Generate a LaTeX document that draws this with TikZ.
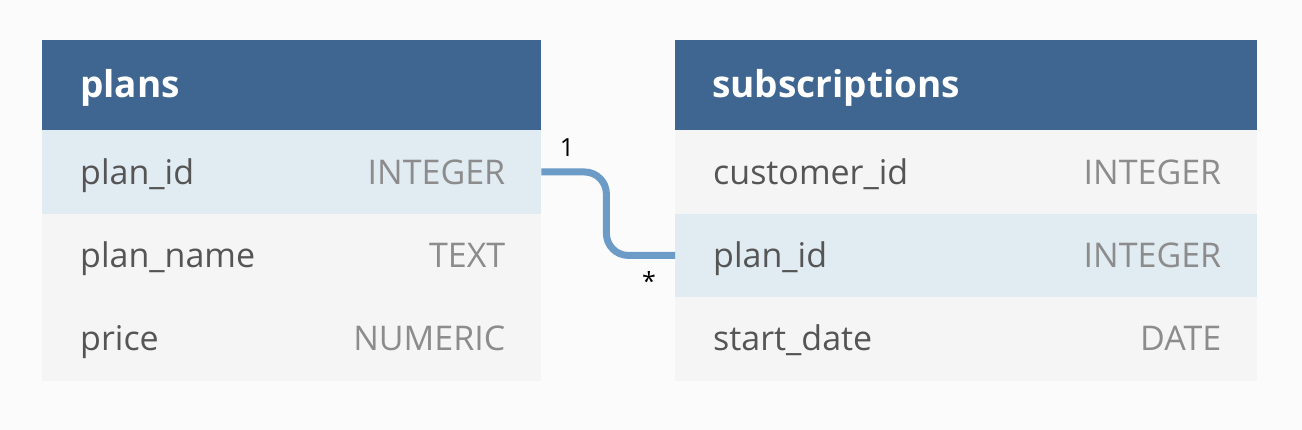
\documentclass[tikz,border=0pt]{standalone}
\usepackage{fontspec}
\setmainfont{Open Sans}
\usetikzlibrary{calc}
\definecolor{bgc}{HTML}{FBFBFB}
\definecolor{hdrc}{HTML}{3E6690}
\definecolor{rowc}{HTML}{F5F5F5}
\definecolor{hlc}{HTML}{E0EBF2}
\definecolor{namec}{HTML}{555555}
\definecolor{typec}{HTML}{8C8C8C}
\definecolor{connc}{HTML}{6C9BC8}
\begin{document}
\begin{tikzpicture}[x=1pt,y=-1pt,
  hdr/.style={fill=hdrc, draw=none, anchor=north west, minimum height=90pt, inner sep=0pt},
  htext/.style={anchor=base west, text=white, inner sep=0pt, font=\fontsize{37}{42}\selectfont\bfseries},
  rowbox/.style={fill=rowc, draw=none, anchor=north west, minimum height=83.5pt, inner sep=0pt},
  hlbox/.style={rowbox, fill=hlc},
  fname/.style={anchor=base west, text=namec, inner sep=0pt, font=\fontsize{34}{40}\selectfont},
  ftype/.style={anchor=base east, text=typec, inner sep=0pt, font=\fontsize{34}{40}\selectfont},
  conn/.style={draw=connc, line width=7pt, rounded corners=22pt},
  card/.style={text=black, inner sep=0pt, font=\fontsize{25}{30}\selectfont}]
\fill[bgc] (0,0) rectangle (1302,430);
\useasboundingbox (0,0) rectangle (1302,430);
% plans table
\node[hdr, minimum width=499pt] (ph) at (42,40) {};
\node[htext] (pht) at ($(ph.north west)+(38,58)$) {plans};
\node[hlbox, minimum width=499pt] (p1) at (42,130) {};
\node[rowbox, minimum width=499pt] (p2) at (42,213.5) {};
\node[rowbox, minimum width=499pt] (p3) at (42,297) {};
\node[fname] (p1n) at ($(p1.north west)+(38,55)$) {plan\_id};
\node[ftype] (p1t) at ($(p1.north east)+(-36,55)$) {INTEGER};
\node[fname] (p2n) at ($(p2.north west)+(38,54)$) {plan\_name};
\node[ftype] (p2t) at ($(p2.north east)+(-36,54)$) {TEXT};
\node[fname] (p3n) at ($(p3.north west)+(38,54)$) {price};
\node[ftype] (p3t) at ($(p3.north east)+(-36,54)$) {NUMERIC};
% subscriptions table
\node[hdr, minimum width=582pt] (sh) at (675,40) {};
\node[htext] (sht) at ($(sh.north west)+(37,58)$) {subscriptions};
\node[rowbox, minimum width=582pt] (s1) at (675,130) {};
\node[hlbox, minimum width=582pt] (s2) at (675,213.5) {};
\node[rowbox, minimum width=582pt] (s3) at (675,297) {};
\node[fname] (s1n) at ($(s1.north west)+(38,55)$) {customer\_id};
\node[ftype] (s1t) at ($(s1.north east)+(-36,55)$) {INTEGER};
\node[fname] (s2n) at ($(s2.north west)+(38,54)$) {plan\_id};
\node[ftype] (s2t) at ($(s2.north east)+(-36,54)$) {INTEGER};
\node[fname] (s3n) at ($(s3.north west)+(38,54)$) {start\_date};
\node[ftype] (s3t) at ($(s3.north east)+(-36,54)$) {DATE};
% connector
\draw[conn] (p1.east) -- ++(65,0) |- (s2.west);
\node[card] (c1) at (567,148) {1};
\node[card] (c2) at (649,281) {*};
\end{tikzpicture}
\end{document}
